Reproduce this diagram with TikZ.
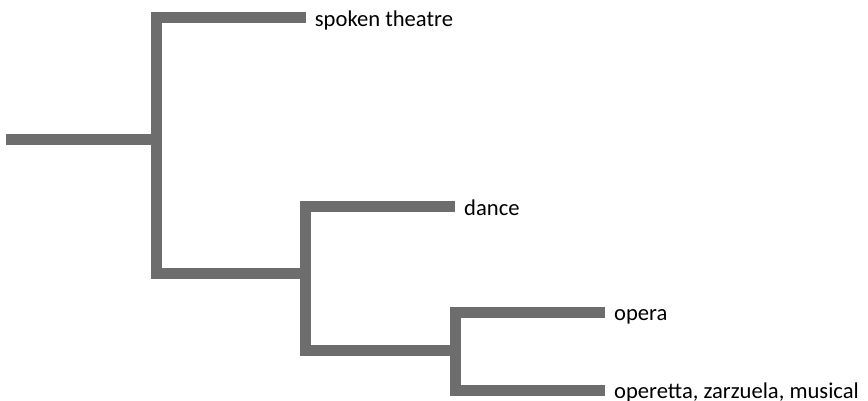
\documentclass[tikz,border=0pt]{standalone}
\usepackage{fontspec}
\setmainfont{Carlito}
\definecolor{bar}{RGB}{109,109,109}
\begin{document}
\begin{tikzpicture}[x=1pt,y=-1pt,
  branch/.style={draw=bar,line width=11pt,line cap=butt,line join=miter},
  leaf/.style={anchor=base west,inner xsep=9pt,inner ysep=0pt,yshift=-8.7pt,font=\fontsize{22.6}{26}\selectfont,text=black}]
\useasboundingbox (0,0) rectangle (868,401);
% leaf ends
\coordinate (l1) at (305.7,18);
\coordinate (l2) at (455,206.5);
\coordinate (l3) at (605,312);
\coordinate (l4) at (605,390);
% leaf labels
\node[leaf] (spoken) at (l1) {spoken theatre};
\node[leaf] (dance) at (l2) {dance};
\node[leaf] (opera) at (l3) {opera};
\node[leaf] (operetta) at (l4) {operetta, zarzuela, musical};
% internal points
\coordinate (root) at (6,140);
\coordinate (n1) at (156,140);
\coordinate (n2) at (305.5,273);
\coordinate (n3) at (455,350.5);
% branches
\draw[branch] (root) -- (n1);
\draw[branch] (l1) -| (n1) |- (n2);
\draw[branch] (l2) -| (n2) |- (n3);
\draw[branch] (l3) -| (n3) |- (l4);
\end{tikzpicture}
\end{document}
